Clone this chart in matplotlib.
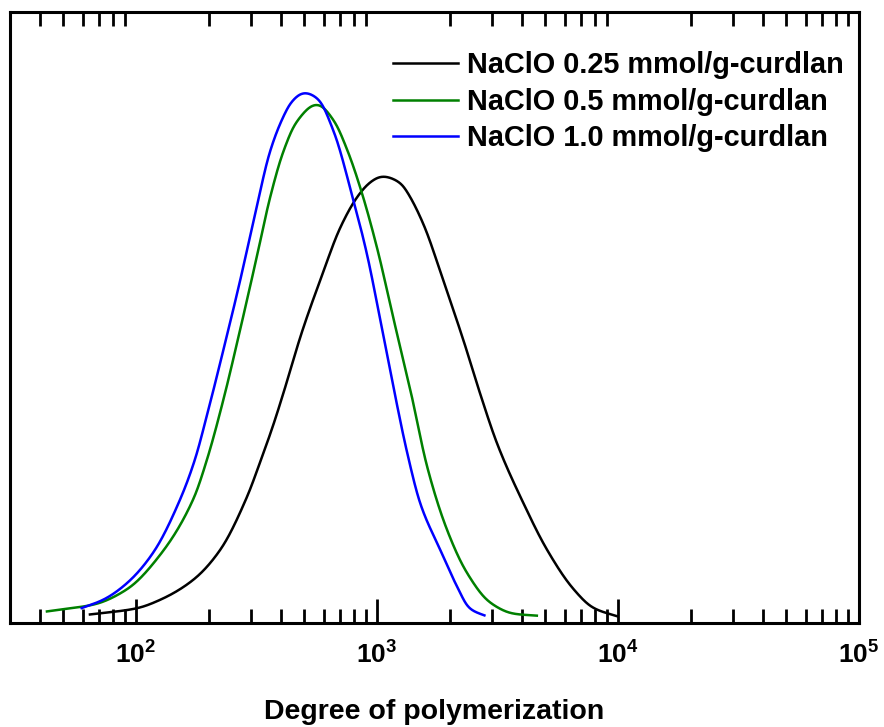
import matplotlib
matplotlib.use("Agg")
import matplotlib.pyplot as plt
from matplotlib.ticker import LogLocator, FuncFormatter, NullFormatter
import numpy as np

plt.rcParams["font.family"] = ["Liberation Sans", "DejaVu Sans"]
plt.rcParams["font.weight"] = "bold"
plt.rcParams["mathtext.fontset"] = "custom"
plt.rcParams["mathtext.rm"] = "Liberation Sans:bold"
plt.rcParams["mathtext.bf"] = "Liberation Sans:bold"

# ── Data: degree of polymerization vs. normalized distribution ────────────────
labels = [
    "NaClO 0.25 mmol/g-curdlan",
    "NaClO 0.5 mmol/g-curdlan",
    "NaClO 1.0 mmol/g-curdlan",
]
colors = ["#000000", "#008000", "#0000ff"]

dp_025 = [64.4, 100.7, 125.9, 173.0, 223.4, 288.4, 327.5, 371.9, 409.3, 488.0,
          590.9, 703.9, 836.3, 938.1, 1049, 1250, 1333, 1557, 1891,
          2290, 2687, 3153, 4065, 5085, 6559, 7943, 9934]
w_025 = [0.008, 0.018, 0.032, 0.065, 0.114, 0.201, 0.259, 0.321, 0.373, 0.473,
         0.566, 0.645, 0.698, 0.720, 0.730, 0.719, 0.704, 0.651, 0.556,
         0.458, 0.370, 0.289, 0.190, 0.114, 0.049, 0.018, 0.005]

dp_05 = [42.7, 48.3, 66.5, 91.5, 125.9, 173.0, 196.7, 230.6, 270.5, 317.2,
         360.3, 409.3, 465.2, 563.3, 660.2, 750.7, 855.0, 1003, 1169, 1375,
         1618, 1954, 2366, 2956, 3694, 4622]
w_05 = [0.013, 0.016, 0.024, 0.049, 0.106, 0.198, 0.262, 0.362, 0.477, 0.597,
        0.695, 0.771, 0.820, 0.849, 0.822, 0.774, 0.709, 0.610, 0.496, 0.378,
        0.250, 0.147, 0.076, 0.027, 0.009, 0.006]

dp_10 = [59.5, 73.1, 91.5, 118.0, 152.3, 175.9, 196.7, 230.6, 268.7, 310.0,
         360.3, 406.8, 443.6, 498.9, 563.3, 660.2, 787.3, 908.9, 1032, 1172,
         1333, 1514, 1832, 2149, 2442, 2791]
w_10 = [0.0185, 0.032, 0.059, 0.110, 0.197, 0.264, 0.335, 0.444, 0.553, 0.662,
        0.771, 0.826, 0.853, 0.868, 0.859, 0.804, 0.699, 0.601, 0.493, 0.381,
        0.275, 0.190, 0.114, 0.054, 0.016, 0.0065]

series = [(dp_025, w_025), (dp_05, w_05), (dp_10, w_10)]

# rough screen scale (px per decade, px per unit) used only for smoothing
SX, SY = 240.7, 611.0


def pchip(x, y, n=2000):
    """Monotone piecewise cubic (Fritsch-Carlson) on a dense grid."""
    x, y = np.asarray(x, float), np.asarray(y, float)
    h = np.diff(x)
    d = np.diff(y) / h
    m = np.zeros_like(y)
    for i in range(1, len(x) - 1):
        if d[i - 1] * d[i] > 0:
            w1, w2 = 2 * h[i] + h[i - 1], h[i] + 2 * h[i - 1]
            m[i] = (w1 + w2) / (w1 / d[i - 1] + w2 / d[i])
    m[0], m[-1] = d[0], d[-1]
    xs = np.linspace(x[0], x[-1], n)
    j = np.clip(np.searchsorted(x, xs) - 1, 0, len(x) - 2)
    t = (xs - x[j]) / h[j]
    h00 = 2 * t ** 3 - 3 * t ** 2 + 1
    h10 = t ** 3 - 2 * t ** 2 + t
    h01 = -2 * t ** 3 + 3 * t ** 2
    h11 = t ** 3 - t ** 2
    ys = h00 * y[j] + h10 * h[j] * m[j] + h01 * y[j + 1] + h11 * h[j] * m[j + 1]
    return xs, ys


def smooth_curve(dp, w, sigma=5.0, step=0.5):
    """Interpolate the points, then a light gaussian pass along arc length."""
    lx, ly = pchip(np.log10(dp) * SX, np.array(w) * SY)
    c = np.column_stack([lx, ly])
    seg = np.hypot(*np.diff(c, axis=0).T)
    s = np.concatenate([[0], np.cumsum(seg)])
    ss = np.arange(0, s[-1], step)
    c = np.column_stack([np.interp(ss, s, c[:, 0]), np.interp(ss, s, c[:, 1])])
    m = int(4 * sigma / step)
    k = np.exp(-0.5 * (np.arange(-m, m + 1) * step / sigma) ** 2)
    k /= k.sum()
    head = 2 * c[0] - c[1:m + 1][::-1]
    tail = 2 * c[-1] - c[-m - 1:-1][::-1]
    cp = np.vstack([head, c, tail])
    x = np.convolve(cp[:, 0], k, mode="valid")
    y = np.convolve(cp[:, 1], k, mode="valid")
    return 10 ** (x / SX), y / SY


# ── Figure ────────────────────────────────────────────────────────────────────
fig = plt.figure(figsize=(8.84, 7.27), dpi=100)
ax = fig.add_axes([0.0113, 0.1431, 0.9604, 0.8404])

for (dp, w), c, lab in zip(series, colors, labels):
    xs, ys = smooth_curve(dp, w)
    ax.plot(xs, ys, color=c, lw=1.8, label=lab)

ax.set_xscale("log")
ax.set_xlim(30, 1e5)
ax.set_ylim(-0.006, 1.0)

ax.xaxis.set_major_locator(LogLocator(base=10, numticks=10))
ax.xaxis.set_minor_locator(LogLocator(base=10, subs=np.arange(2, 10), numticks=20))
ax.xaxis.set_major_formatter(FuncFormatter(
    lambda v, p: r"$\mathbf{10^{%d}}$" % round(np.log10(v))))
ax.xaxis.set_minor_formatter(NullFormatter())

ax.tick_params(axis="x", which="major", direction="in", length=17, width=2,
               top=False, bottom=True, labelsize=19, pad=13)
ax.tick_params(axis="x", which="minor", direction="in", length=10, width=2,
               top=True, bottom=True)
ax.set_yticks([])
for s in ax.spines.values():
    s.set_linewidth(2.2)

ax.set_xlabel("Degree of polymerization", fontsize=20.5, fontweight="bold",
              labelpad=22)

ax.legend(loc="upper left", bbox_to_anchor=(393 / 884, 1 - 51 / 727),
          bbox_transform=fig.transFigure, frameon=False,
          fontsize=20.8, handlelength=2.25, handletextpad=0.32,
          labelspacing=0.3, borderpad=0, borderaxespad=0)

plt.savefig("out.png", dpi=100)
